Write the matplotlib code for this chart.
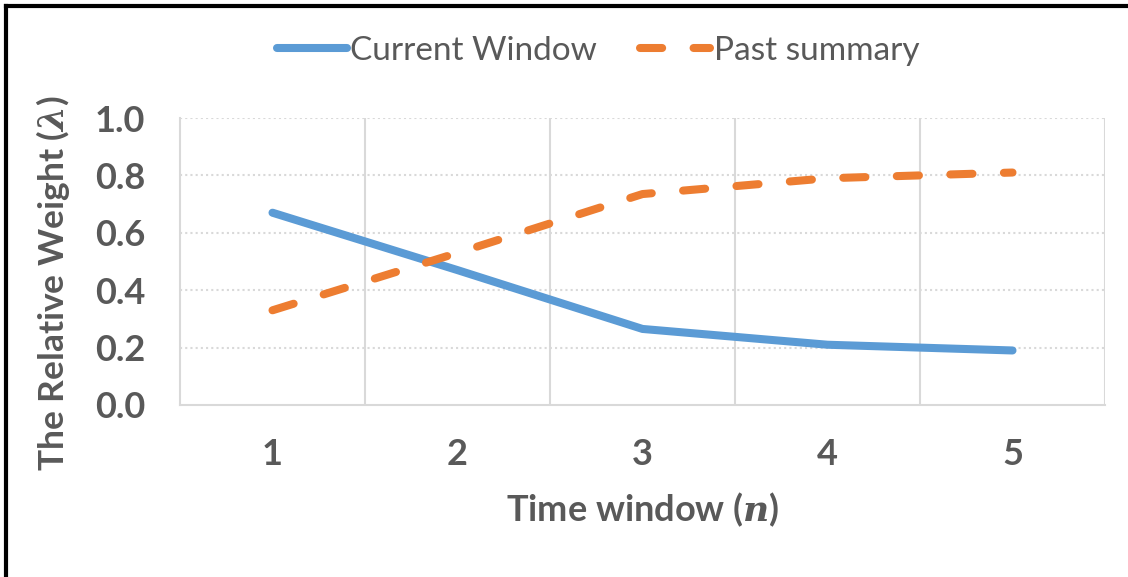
import matplotlib
matplotlib.use('Agg')
import matplotlib.pyplot as plt
from matplotlib.lines import Line2D

# relative weight of each part per time window
windows = [1, 2, 3, 4, 5]
current_window = [0.67, 0.47, 0.265, 0.21, 0.19]
past_summary = [0.33, 0.53, 0.735, 0.79, 0.81]

BLUE = '#5B9BD5'
ORANGE = '#ED7D31'
GRAY_TXT = '#595959'
GRID = '#D9D9D9'

plt.rcParams['font.family'] = ['Lato', 'DejaVu Sans']
plt.rcParams['mathtext.fontset'] = 'custom'
plt.rcParams['mathtext.it'] = 'DejaVu Serif:italic:bold'
plt.rcParams['mathtext.rm'] = 'Lato:bold'

fig = plt.figure(figsize=(11.28, 5.77), dpi=100)
ax = fig.add_axes([180 / 1128, 1 - 405 / 577, 925 / 1128, 287 / 577])

ax.plot(windows, current_window, color=BLUE, lw=5.8,
        solid_capstyle='round', solid_joinstyle='round', zorder=3)
ax.plot(windows, past_summary, color=ORANGE, lw=5.8, dashes=(2.75, 3.9),
        dash_capstyle='round', zorder=3)

ax.set_xlim(0.5, 5.5)
ax.set_ylim(0, 1.0)
ax.set_xticks(windows)
ax.set_yticks([0, 0.2, 0.4, 0.6, 0.8, 1.0])
ax.set_yticklabels([f'{v:.1f}' for v in [0, 0.2, 0.4, 0.6, 0.8, 1.0]])
ax.tick_params(length=0, labelsize=26, labelcolor=GRAY_TXT)
ax.tick_params(axis='y', pad=25)
ax.tick_params(axis='x', pad=24)
for lab in ax.get_xticklabels() + ax.get_yticklabels():
    lab.set_fontweight('bold')

# dotted horizontal grid, solid vertical separators between windows
for y in [0.2, 0.4, 0.6, 0.8, 1.0]:
    ax.axhline(y, color=GRID, lw=1.5, ls=(0, (1, 1.5)), zorder=1)
for x in [1.5, 2.5, 3.5, 4.5, 5.5]:
    ax.axvline(x, color=GRID, lw=1.5, zorder=1)
for side in ['top', 'right']:
    ax.spines[side].set_visible(False)
for side in ['left', 'bottom']:
    ax.spines[side].set_color(GRID)
    ax.spines[side].set_linewidth(1.5)

ax.set_xlabel('Time window ($\\mathit{n}$)', fontsize=26, fontweight='bold',
              color=GRAY_TXT, labelpad=14)
ax.set_ylabel('The Relative Weight ($\\mathit{\\lambda}$)', fontsize=25.5,
              fontweight='bold', color=GRAY_TXT)
ax.yaxis.set_label_coords(-0.117, 0.425)

handles = [Line2D([0], [0], color=BLUE, lw=5.8, solid_capstyle='round'),
           Line2D([0], [0], color=ORANGE, lw=5.8, dashes=(2.75, 3.9),
                  dash_capstyle='round')]
leg = fig.legend(handles, ['Current Window', 'Past summary'], loc='center',
                 bbox_to_anchor=(598 / 1128, 1 - 51 / 577), ncol=2,
                 frameon=False, fontsize=24, handlelength=2.1,
                 handletextpad=0.1, columnspacing=1.3)
for t in leg.get_texts():
    t.set_color(GRAY_TXT)

# outer frame, left and top edges
fig.add_artist(Line2D([6 / 1128, 6 / 1128], [0, 1 - 6 / 577], color='black',
                      lw=3, transform=fig.transFigure))
fig.add_artist(Line2D([6 / 1128, 1], [1 - 6 / 577, 1 - 6 / 577], color='black',
                      lw=3, transform=fig.transFigure))

fig.savefig('out.png', dpi=100)
